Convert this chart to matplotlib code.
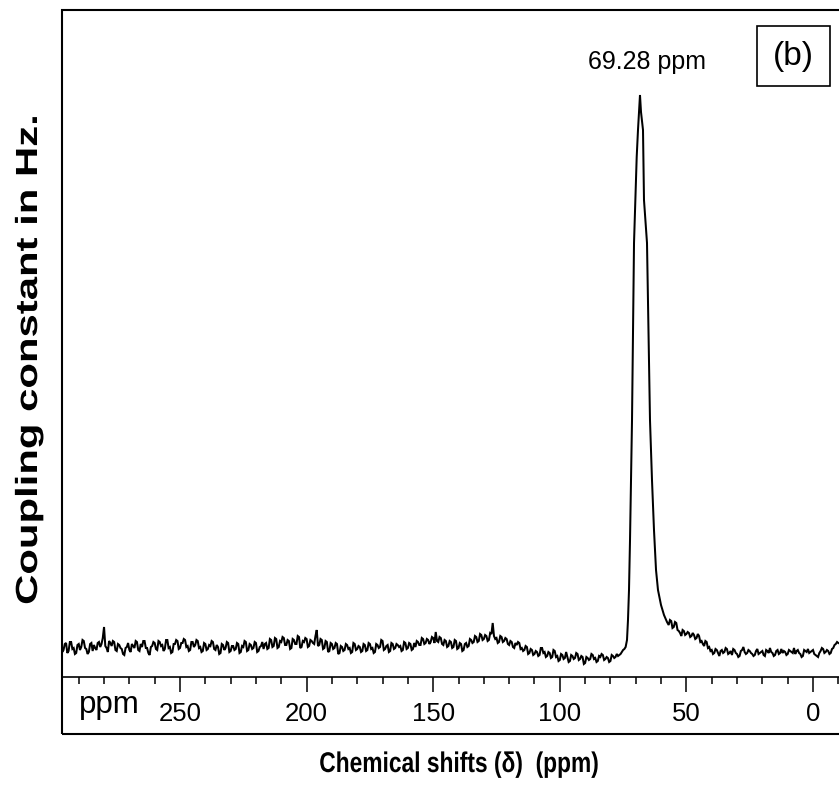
import numpy as np
import matplotlib
matplotlib.use("Agg")
import matplotlib.pyplot as plt
from matplotlib.patches import Rectangle
from matplotlib.patheffects import AbstractPathEffect
from matplotlib.transforms import Affine2D
from matplotlib import font_manager

# ---------------- data (arbitrary intensity units) ----------------
# baseline left of the peak: 297 ppm down to 74 ppm, 0.5 ppm steps
left_start, left_end = 297.0, 74.0
left_intensity = [
    -1, -7, -5, 1, 2, -8, -6, 3, 3, -4, -3, -9, -8, 0, 1, -5, -2, 5, 4, -3,
    -4, -9, -7, 1, 2, -6, 0, -3, -5, 2, 3, -2, 1, 7, 18, -1, -3, -7, 4, 2,
    -1, 4, 3, -5, -6, 1, 0, -3, -4, -9, -10, -3, -2, 2, -5, -7, 1, -1, -3, 4,
    3, -5, -6, 1, -2, 4, 4, -3, -3, -8, -10, -2, -1, 3, 2, -4, -5, 4, 3, -1,
    0, -6, -4, 5, 5, -3, -2, -8, -7, 1, 1, 5, 4, -4, -3, 2, 2, 6, 5, -2,
    -1, -6, -5, 3, 3, -2, 0, 5, 4, -3, -2, -7, -6, 2, 1, -5, -4, 0, -1, 4,
    3, -4, -5, 0, -2, -9, -8, 1, 0, -5, -3, 3, 2, -7, -6, -1, -1, -5, -4, 2,
    1, -8, -7, -1, -2, 4, 3, -6, -5, 1, 0, -4, -3, 3, 2, -7, -6, -2, -1, 3,
    -4, 1, 2, -4, -3, 6, 5, -2, -1, 7, 6, -3, -2, 4, 3, 8, 7, 0, 0, 5,
    4, -4, -3, 6, 5, 1, 1, 9, 8, -3, -2, 4, 3, 7, 6, -2, -1, 5, 4, 2,
    1, 9, 15, -1, 0, 6, 5, -4, -3, 4, 3, -7, -6, 2, 1, -4, -3, 2, 1, -9,
    -8, -1, -2, -6, -5, 1, 0, -4, -3, -8, -7, 2, 1, -5, -4, -1, -2, -7, -6, 1,
    0, -6, -5, 2, 1, -4, -3, -8, -7, 1, 0, -3, -2, 5, 4, -5, -4, -1, 0, -7,
    -6, 2, 1, -4, -3, 1, 0, -2, -1, -6, -5, 3, 2, -4, -3, 2, 1, -5, -4, 2,
    -2, 4, 3, 0, 0, 7, 6, 1, 2, 6, 5, 1, 3, 8, 7, 2, 13, 4, 3, 8,
    7, 1, 0, 5, 4, -2, -1, 4, 3, -3, -2, 5, 4, -4, -3, 2, 1, -6, -5, 1,
    2, -2, -1, 6, 5, 2, 3, 9, 8, 3, 4, 11, 10, 5, 6, 10, 9, 4, 5, 12,
    11, 22, 9, 6, 7, 2, 3, 9, 8, 3, 4, 7, 6, 1, 0, 4, 3, -2, -3, 2,
    0, 3, 2, -4, -3, -6, -5, -1, -2, -9, -8, -4, -5, -10, -9, -6, -7, -11, -10, -3,
    -3, -8, -7, -12, -11, -7, -8, -13, -12, -5, -6, -12, -11, -16, -15, -9, -10, -14, -13, -7,
    -12, -17, -16, -10, -11, -14, -13, -8, -9, -15, -14, -11, -12, -19, -18, -12, -13, -15, -14, -9,
    -10, -14, -13, -17, -16, -11, -12, -9, -10, -15, -14, -12, -13, -17, -16, -10, -11, -13, -12, -9,
    -11, -10, -9, -7, -5, -4, -2,
]

# the resonance at 69.28 ppm
peak_ppm = [73.46, 73.07, 72.67, 72.27, 71.88, 71.48, 71.09, 70.69, 69.63, 69.12, 68.33,
            67.93, 67.14, 67.00, 66.75, 65.56, 65.17, 64.77, 64.38, 63.59, 62.80, 62.00,
            61.22, 60.03, 58.85, 57.66]
peak_intensity = [5, 25, 55, 105, 165, 225, 315, 402, 488, 515, 550,
                  533, 515, 488, 445, 402, 345, 285, 225, 165, 115, 75,
                  55, 40, 30, 23]

# baseline right of the peak: 57 ppm down to -10 ppm, 0.5 ppm steps
right_start, right_end = 57.0, -10.0
right_intensity = [
    20, 25, 24, 17, 18, 23, 22, 15, 14, 12,
    9, 15, 14, 10, 11, 13, 12, 8, 9, 12,
    10, 6, 7, 11, 9, 3, 4, 1, -1, 4,
    3, -3, -2, -6, -5, -9, -8, -4, -5, -8,
    -11, -6, -5, -8, -7, -3, -4, -9, -8, -6,
    -10, -4, -5, -8, -9, -12, -11, -6, -5, -2,
    -7, -9, -8, -5, -6, -8, -9, -11, -10, -6,
    -4, -9, -8, -7, -6, -10, -11, -5, -6, -8,
    -3, -7, -8, -11, -10, -6, -5, -9, -8, -4,
    -8, -6, -7, -10, -9, -5, -6, -7, -8, -3,
    -9, -6, -5, -8, -9, -12, -11, -5, -6, -7,
    -4, -8, -7, -6, -5, -9, -10, -11, -12, -8,
    -6, -3, -4, -8, -7, -5, -6, -9, -8, -4,
    -3, 0, 1, 3, 2,
]

major_ticks = [250, 200, 150, 100, 50, 0]
tick_labels = ["250", "200", "150", "100", "50", "0"]
peak_label = "69.28 ppm"
panel_label = "(b)"
xlabel = "Chemical shifts (\u03b4)  (ppm)"
ylabel = "Coupling constant in Hz."

# ---------------- assemble spectrum ----------------
left_ppm = np.linspace(left_start, left_end, len(left_intensity))
right_ppm = np.linspace(right_start, right_end, len(right_intensity))
ppm = np.concatenate([left_ppm, peak_ppm, right_ppm])
intensity = np.concatenate([left_intensity, peak_intensity, right_intensity])

# ---------------- figure ----------------
W, H = 839, 792
fig = plt.figure(figsize=(W / 100, H / 100), dpi=100)

names = {f.name for f in font_manager.fontManager.ttflist}
base_font = "Liberation Sans" if "Liberation Sans" in names else "DejaVu Sans"
plt.rcParams["font.family"] = [base_font, "DejaVu Sans"]


def fx(px):
    return px / W


def fy(py):
    return 1 - py / H


class Stretch(AbstractPathEffect):
    """Scale the glyph outlines of a text about a point (the scan's labels are condensed/elongated)."""

    def __init__(self, sx, sy, cx, cy):
        super().__init__()
        self._t = Affine2D().translate(-cx, -cy).scale(sx, sy).translate(cx, cy)

    def draw_path(self, renderer, gc, tpath, affine, rgbFace=None):
        renderer.draw_path(gc, tpath, affine + self._t, rgbFace)


ax_left, ax_right, ax_bottom, ax_top = 62, 850, 677, 10
zero_px, px_per_ppm, base_px = 813, 2.532, 645
ax = fig.add_axes([fx(ax_left), fy(ax_bottom), fx(ax_right - ax_left), (ax_bottom - ax_top) / H])
ax.plot(ppm, intensity, color="black", lw=1.45, solid_joinstyle="miter")

ax.set_xlim((zero_px - ax_left) / px_per_ppm, -(ax_right - zero_px) / px_per_ppm)
ax.set_ylim(-(ax_bottom - base_px), base_px - ax_top)

for s in ["top", "left", "right"]:
    ax.spines[s].set_visible(False)
ax.spines["bottom"].set_linewidth(1.2)
ax.set_yticks([])
ax.set_xticks(major_ticks)
ax.set_xticklabels(tick_labels)
ax.set_xticks(np.arange(-10, 300, 10), minor=True)
ax.tick_params(axis="x", which="major", direction="out", length=10.8, width=1.1,
               pad=7.5, labelsize=18.5)
ax.tick_params(axis="x", which="minor", direction="out", length=5, width=1.1)

# outer frame
fig.patches.append(Rectangle((fx(62), fy(734)), fx(900 - 62), (734 - 10) / H,
                             transform=fig.transFigure, fill=False, lw=1.5,
                             edgecolor="black"))
# "ppm" at left of tick labels
fig.text(fx(109), fy(713), "ppm", ha="center", va="baseline", fontsize=22.5)

# panel label box
fig.patches.append(Rectangle((fx(757), fy(86)), fx(830 - 757), (86 - 26) / H,
                             transform=fig.transFigure, fill=False, lw=1.2,
                             edgecolor="black"))
fig.text(fx(793.5), fy(57), panel_label, ha="center", va="center", fontsize=24)
fig.text(fx(647), fy(62), peak_label, ha="center", va="center", fontsize=18)

# axis titles
xl_x, xl_y = 459, 772
fig.text(fx(xl_x), fy(xl_y), xlabel, ha="center", va="baseline", fontsize=20.5,
         fontweight="bold",
         path_effects=[Stretch(0.80, 1.0, xl_x, H - xl_y)])
yl_x, yl_y = 29, 360
fig.text(fx(yl_x), fy(yl_y), ylabel, ha="center", va="center", rotation=90,
         fontsize=22, fontweight="bold",
         path_effects=[Stretch(1.0, 1.37, yl_x, H - yl_y)])

fig.savefig("out.png", dpi=100)
